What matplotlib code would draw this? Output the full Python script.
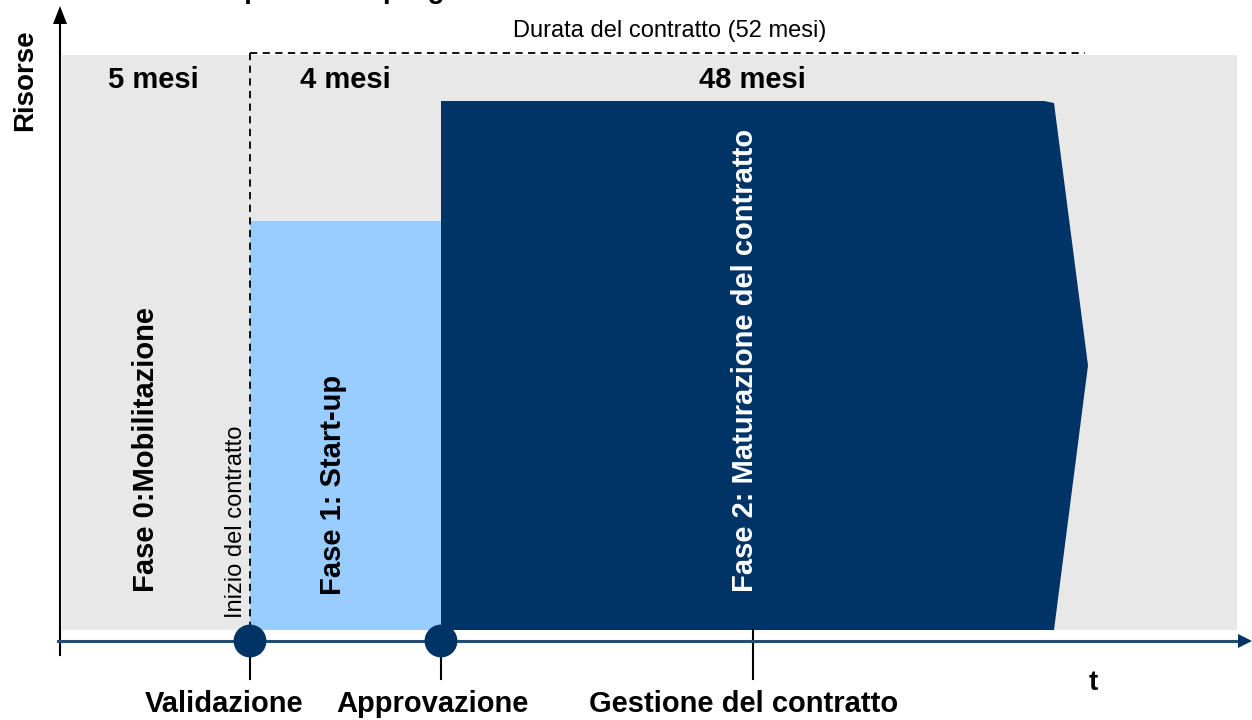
import matplotlib
matplotlib.use("Agg")
import matplotlib.pyplot as plt
from matplotlib.patches import Rectangle, Polygon

plt.rcParams['font.family'] = ['Liberation Sans', 'DejaVu Sans']

# ---- data ----
title_text = "Figura 1: la scansione temporale del progetto"
phase_names = ["Fase 0:Mobilitazione", "Fase 1: Start-up", "Fase 2: Maturazione del contratto"]
phase_durations = ["5 mesi", "4 mesi", "48 mesi"]
resource_levels = [0.0, 0.712, 0.92]          # share of the grey band height
milestones = ["Validazione", "Approvazione", "Gestione del contratto"]
contract_label = "Durata del contratto (52 mesi)"
contract_start_label = "Inizio del contratto"
y_label = "Risorse"
x_label = "t"

# ---- layout (pixel space) ----
W, H = 1252, 720
fig = plt.figure(figsize=(W / 100, H / 100), dpi=100)
ax = fig.add_axes([0, 0, 1, 1])
ax.set_xlim(0, W)
ax.set_ylim(H, 0)
ax.axis('off')

base_y, top_y = 630, 55
edges = [62, 250, 441, 1048]
tip_x = 1088
axis_y = 641
grey = "#E8E8E8"
light = "#99CCFF"
navy = "#003366"

def level_to_y(v):
    return base_y - v * (base_y - top_y)

# background band
ax.add_patch(Rectangle((edges[0], top_y), 1237 - edges[0], base_y - top_y,
                       facecolor=grey, edgecolor='none', zorder=0))
# phase 1
y1 = level_to_y(resource_levels[1])
ax.add_patch(Rectangle((edges[1], y1), edges[2] - edges[1], base_y - y1,
                       facecolor=light, edgecolor='none', zorder=1))
# phase 2 (arrow shaped)
y2 = level_to_y(resource_levels[2])
ax.add_patch(Polygon([(edges[2], y2), (edges[3] - 4, y2), (edges[3] + 6, y2 + 2),
                      (tip_x, (y2 + base_y) / 2), (edges[3] + 6, base_y),
                      (edges[3] - 4, base_y), (edges[2], base_y)],
                     closed=True, facecolor=navy, edgecolor='none', zorder=1))

# contract duration dashed lines
ax.plot([edges[1], edges[1]], [top_y - 2, base_y], color='black', lw=1.3,
        dashes=(4, 3), zorder=3)
ax.plot([edges[1], 1085], [top_y - 2, top_y - 2], color='black', lw=1.3,
        dashes=(4, 3), zorder=3)
ax.text(670, 31, contract_label, ha='center', va='center',
        fontsize=17, color='black')

# y axis
ax.plot([60, 60], [655, 22], color='black', lw=1.5, zorder=4)
ax.add_patch(Polygon([(53, 24), (67, 24), (60, 6)], closed=True,
                     facecolor='black', edgecolor='none', zorder=4))
ax.text(25, 80, y_label, rotation=90, ha='center', va='center',
        fontsize=20, fontweight='bold')

# x axis
ax.plot([58, 1240], [axis_y, axis_y], color='#1F4E79', lw=2.2, zorder=4)
ax.add_patch(Polygon([(1238, axis_y - 7), (1238, axis_y + 7), (1252, axis_y)],
                     closed=True, facecolor=navy, edgecolor='none', zorder=4))
ax.text(1093, 683, x_label, ha='center', va='center', fontsize=20, fontweight='bold')

# milestones
ms_x = [edges[1], edges[2], 753]
ms_label_x = [224, 432, 744]
for i, (mx, lx, name) in enumerate(zip(ms_x, ms_label_x, milestones)):
    ax.plot([mx, mx], [base_y if i == 2 else axis_y, 679], color='black', lw=1.5, zorder=3)
    if i < 2:
        ax.scatter([mx], [axis_y], s=560, color=navy, zorder=5, edgecolors='none')
    ax.text(lx, 704, name, ha='center', va='center', fontsize=21, fontweight='bold')

# durations
dur_x = [153, 345, 752]
for dx, d in zip(dur_x, phase_durations):
    ax.text(dx, 80, d, ha='center', va='center', fontsize=21, fontweight='bold')

# phase names (vertical)
ax.text(146, 450, phase_names[0], rotation=90, ha='center', va='center',
        fontsize=21, fontweight='bold', color='black')
ax.text(333, 485, phase_names[1], rotation=90, ha='center', va='center',
        fontsize=21, fontweight='bold', color='black')
ax.text(745, 360, phase_names[2], rotation=90, ha='center', va='center',
        fontsize=21, fontweight='bold', color='white')
ax.text(236, 522, contract_start_label, rotation=90, ha='center', va='center',
        fontsize=17, color='black')

# caption, cut off at the very top as in the source
ax.text(495, -2, title_text, ha='right', va='baseline', fontsize=20, fontweight='bold',
        clip_on=False)

fig.savefig("out.png", dpi=100)
